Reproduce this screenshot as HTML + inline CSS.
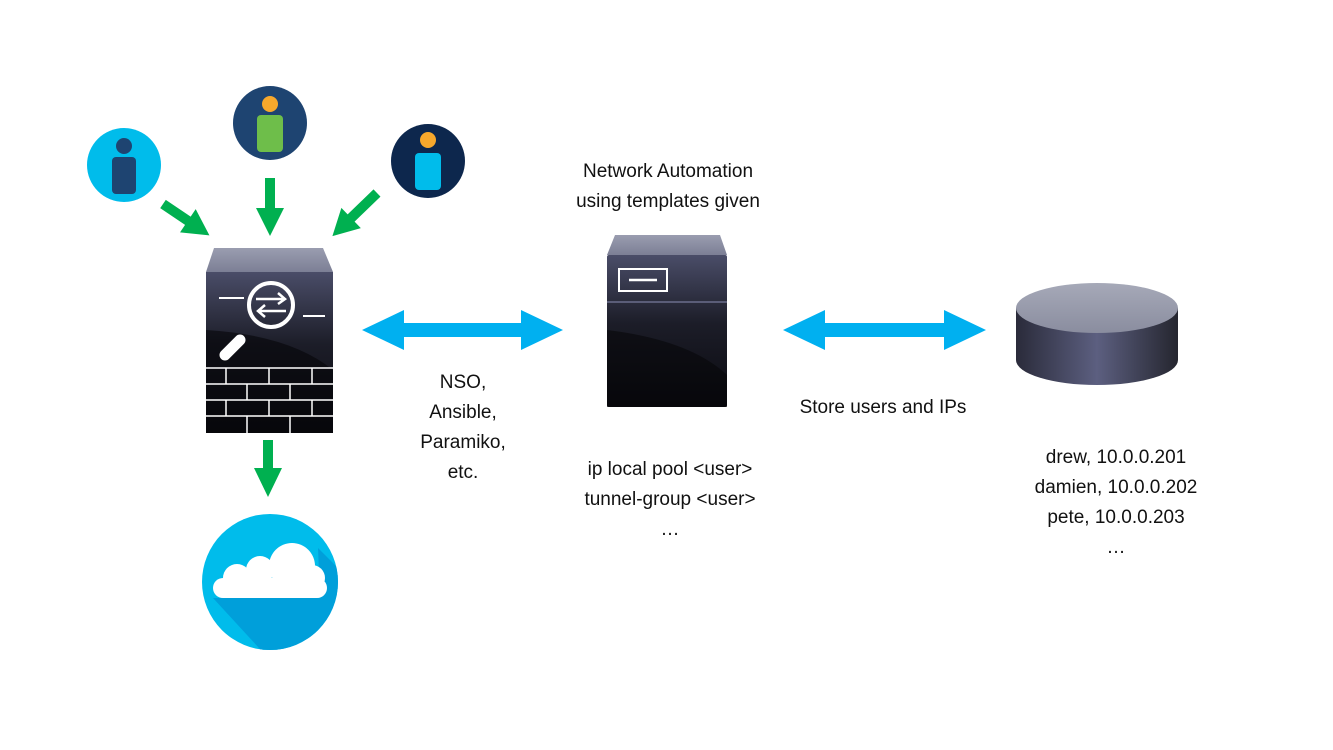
<!DOCTYPE html>
<html><head><meta charset="utf-8"><style>
body{margin:0;width:1333px;height:750px;background:#fff;overflow:hidden;position:relative;font-family:"Liberation Sans",sans-serif;}
.t{position:absolute;font-size:19px;color:#111;text-align:center;white-space:nowrap;transform:translateX(-50%);line-height:30px}
</style></head><body>
<svg width="1333" height="750" style="position:absolute;left:0;top:0">
<defs>
<linearGradient id="face" x1="0" y1="0" x2="0" y2="1"><stop offset="0" stop-color="#4a4d68"/><stop offset="0.45" stop-color="#1c1d28"/><stop offset="1" stop-color="#0a0a10"/></linearGradient>
<linearGradient id="top" x1="0" y1="0" x2="0" y2="1"><stop offset="0" stop-color="#9a9db0"/><stop offset="1" stop-color="#7c7f95"/></linearGradient>
<linearGradient id="cyl" x1="0" y1="0" x2="1" y2="0"><stop offset="0" stop-color="#2a2b3a"/><stop offset="0.5" stop-color="#5c5f80"/><stop offset="1" stop-color="#25262f"/></linearGradient>
<linearGradient id="ctop" x1="0" y1="0" x2="0" y2="1"><stop offset="0" stop-color="#a6a9b8"/><stop offset="1" stop-color="#8a8d9f"/></linearGradient>
<clipPath id="cc"><circle cx="270" cy="582" r="68"/></clipPath>
</defs>
<!-- users -->
<circle cx="124" cy="165" r="37" fill="#00bceb"/>
<circle cx="124" cy="146" r="8" fill="#1e4471"/>
<rect x="112" y="157" width="24" height="37" rx="4" fill="#1e4471"/>
<circle cx="270" cy="123" r="37" fill="#1e4471"/>
<circle cx="270" cy="104" r="8" fill="#f7a82c"/>
<rect x="257" y="115" width="26" height="37" rx="4" fill="#6ebe4a"/>
<circle cx="428" cy="161" r="37" fill="#0d274d"/>
<circle cx="428" cy="140" r="8" fill="#f7a82c"/>
<rect x="415" y="153" width="26" height="37" rx="4" fill="#00bceb"/>
<!-- green arrows -->
<g fill="#00b050">
<polygon transform="translate(163,204) rotate(34)" points="0,-5 30,-5 30,-14 56,0 30,14 30,5 0,5"/>
<polygon points="265,178 275,178 275,208 284,208 270,236 256,208 265,208"/>
<polygon transform="translate(377,193) rotate(136)" points="0,-5 36,-5 36,-14 62,0 36,14 36,5 0,5"/>
<polygon points="263,440 273,440 273,468 282,468 268,497 254,468 263,468"/>
</g>
<!-- firewall -->
<polygon points="214,248 323,248 333,272 206,272" fill="url(#top)"/>
<rect x="206" y="272" width="127" height="161" fill="url(#face)"/>
<path d="M206,330 Q290,335 333,370 L333,433 L206,433Z" fill="#050508" opacity="0.6"/>
<circle cx="271" cy="305" r="22" fill="none" stroke="#fff" stroke-width="4"/>
<line x1="219" y1="298" x2="244" y2="298" stroke="#fff" stroke-width="2"/>
<line x1="303" y1="316" x2="325" y2="316" stroke="#fff" stroke-width="2"/>
<path d="M256,299 H284 M278,293 L285,299 L278,304 M286,311 H259 M265,305 L258,311 L265,317" stroke="#fff" stroke-width="2.5" fill="none"/>
<line x1="225" y1="355" x2="240" y2="340" stroke="#fff" stroke-width="11" stroke-linecap="round"/>
<g stroke="#fff" stroke-width="1.5" fill="none">
<line x1="206" y1="368" x2="333" y2="368"/><line x1="206" y1="384" x2="333" y2="384"/><line x1="206" y1="400" x2="333" y2="400"/><line x1="206" y1="416" x2="333" y2="416"/>
<line x1="226" y1="368" x2="226" y2="384"/><line x1="269" y1="368" x2="269" y2="384"/><line x1="312" y1="368" x2="312" y2="384"/>
<line x1="247" y1="384" x2="247" y2="400"/><line x1="290" y1="384" x2="290" y2="400"/>
<line x1="226" y1="400" x2="226" y2="416"/><line x1="269" y1="400" x2="269" y2="416"/><line x1="312" y1="400" x2="312" y2="416"/>
<line x1="247" y1="416" x2="247" y2="433"/><line x1="290" y1="416" x2="290" y2="433"/>
</g>
<!-- cloud -->
<circle cx="270" cy="582" r="68" fill="#00bceb"/>
<path clip-path="url(#cc)" d="M213,598 L320,598 L318,548 L345,575 L345,660 L270,660Z" fill="#009fda"/>
<g fill="#fff">
<rect x="213" y="578" width="114" height="20" rx="10"/>
<circle cx="237" cy="578" r="14"/><circle cx="292" cy="566" r="23"/><circle cx="312" cy="578" r="13"/><circle cx="260" cy="570" r="14"/>
</g>
<!-- blue arrows -->
<g fill="#00b0f0">
<polygon points="362,330 404,310 404,323 521,323 521,310 563,330 521,350 521,337 404,337 404,350"/>
<polygon points="783,330 825,310 825,323 944,323 944,310 986,330 944,350 944,337 825,337 825,350"/>
</g>
<!-- server -->
<polygon points="615,235 720,235 727,255 607,255" fill="url(#top)"/>
<rect x="607" y="255" width="120" height="152" rx="2" fill="url(#face)"/>
<path d="M607,330 Q690,340 727,375 L727,407 L607,407Z" fill="#050508" opacity="0.55"/>
<line x1="607" y1="302" x2="727" y2="302" stroke="#5a5d78" stroke-width="2"/>
<rect x="619" y="269" width="48" height="22" fill="none" stroke="#fff" stroke-width="2"/>
<line x1="629" y1="280" x2="657" y2="280" stroke="#fff" stroke-width="2.5"/>
<!-- database -->
<path d="M1016,308 L1016,360 A81,25 0 0 0 1178,360 L1178,308Z" fill="url(#cyl)"/>
<ellipse cx="1097" cy="308" rx="81" ry="25" fill="url(#ctop)"/>
</svg>
<div class="t" style="left:668px;top:157px">Network Automation<br>using templates given</div>
<div class="t" style="left:463px;top:368px">NSO,<br>Ansible,<br>Paramiko,<br>etc.</div>
<div class="t" style="left:883px;top:393px">Store users and IPs</div>
<div class="t" style="left:670px;top:455px">ip local pool &lt;user&gt;<br>tunnel-group &lt;user&gt;<br>…</div>
<div class="t" style="left:1116px;top:443px">drew, 10.0.0.201<br>damien, 10.0.0.202<br>pete, 10.0.0.203<br>…</div>
</body></html>
